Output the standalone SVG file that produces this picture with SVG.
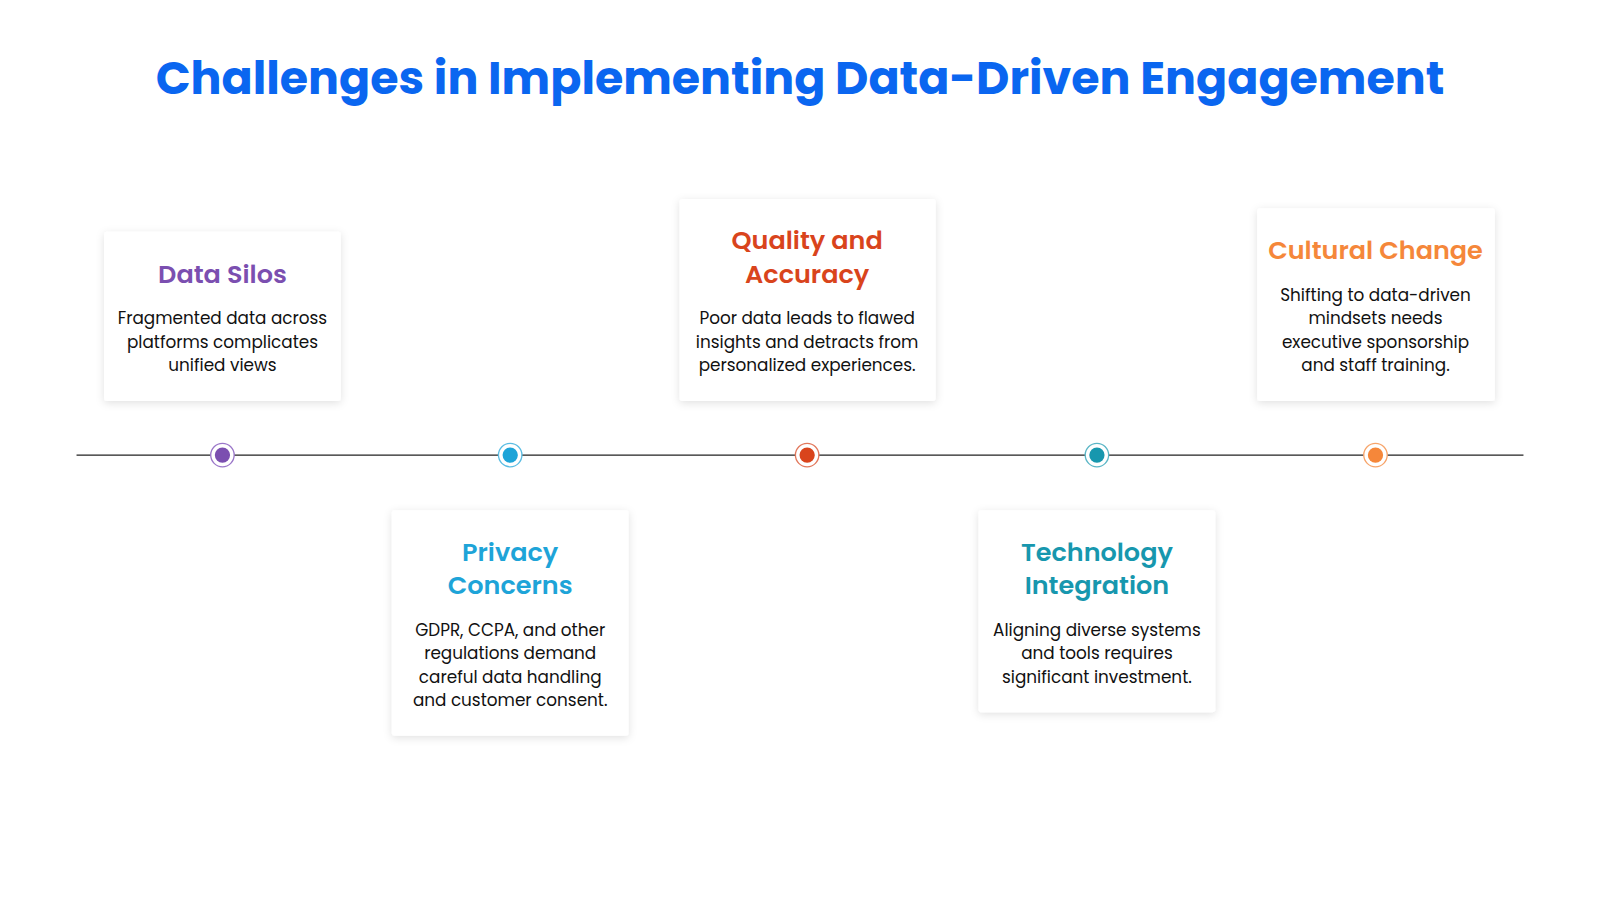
<svg xmlns="http://www.w3.org/2000/svg" width="1600" height="900" viewBox="0 0 1600 900">
<defs>
<filter id="sh" x="-20%" y="-20%" width="140%" height="140%"><feDropShadow dx="0" dy="2" stdDeviation="4" flood-color="#000" flood-opacity="0.12"/></filter>
<style>
text{font-family:Poppins,Inter,"Noto Sans",sans-serif;text-anchor:middle}
.card{fill:#fff;filter:url(#sh)}
.h{font-size:25px;font-weight:600}
.b{font-size:16.5px;fill:#111}
.title{font-size:45px;font-weight:700;fill:#0A66F0}
</style>
</defs>
<rect width="1600" height="900" fill="#fff"/>
<g transform="scale(1.0204)">
<text class="title" x="784" y="92">Challenges in Implementing Data-Driven Engagement</text>
<g id="connectors"><line x1="75" y1="446" x2="1493" y2="446" stroke="#222" stroke-width="1.3"/></g>
<g id="dots">
<circle cx="218" cy="446" r="11.5" fill="#fff" stroke="#9B77C9" stroke-width="1.3"/><circle cx="218" cy="446" r="7.5" fill="#7B4FB0"/>
<circle cx="500" cy="446" r="11.5" fill="#fff" stroke="#5BBDE3" stroke-width="1.3"/><circle cx="500" cy="446" r="7.5" fill="#1EA4D8"/>
<circle cx="791" cy="446" r="11.5" fill="#fff" stroke="#E2785C" stroke-width="1.3"/><circle cx="791" cy="446" r="7.5" fill="#D9441C"/>
<circle cx="1075" cy="446" r="11.5" fill="#fff" stroke="#5BB6C6" stroke-width="1.3"/><circle cx="1075" cy="446" r="7.5" fill="#1797AE"/>
<circle cx="1348" cy="446" r="11.5" fill="#fff" stroke="#F7A56B" stroke-width="1.3"/><circle cx="1348" cy="446" r="7.5" fill="#F5873A"/>
</g>
<g id="data-silos"><rect class="card" x="102" y="227" width="232" height="166" rx="3"/>
<text class="h" x="218" y="277" fill="#7B4FB0">Data Silos</text>
<text class="b" x="218" y="318">Fragmented data across</text><text class="b" x="218" y="341">platforms complicates</text><text class="b" x="218" y="364">unified views</text></g>
<g id="quality"><rect class="card" x="666" y="195" width="251" height="198" rx="3"/>
<text class="h" x="791" y="244" fill="#D9441C">Quality and</text><text class="h" x="791" y="277" fill="#D9441C">Accuracy</text>
<text class="b" x="791" y="318">Poor data leads to flawed</text><text class="b" x="791" y="341">insights and detracts from</text><text class="b" x="791" y="364">personalized experiences.</text></g>
<g id="cultural"><rect class="card" x="1232" y="204" width="233" height="189" rx="3"/>
<text class="h" x="1348" y="254" fill="#F5873A">Cultural Change</text>
<text class="b" x="1348" y="295">Shifting to data-driven</text><text class="b" x="1348" y="318">mindsets needs</text><text class="b" x="1348" y="341">executive sponsorship</text><text class="b" x="1348" y="364">and staff training.</text></g>
<g id="privacy"><rect class="card" x="384" y="500" width="232" height="221" rx="3"/>
<text class="h" x="500" y="550" fill="#1EA4D8">Privacy</text><text class="h" x="500" y="582" fill="#1EA4D8">Concerns</text>
<text class="b" x="500" y="623">GDPR, CCPA, and other</text><text class="b" x="500" y="646">regulations demand</text><text class="b" x="500" y="669">careful data handling</text><text class="b" x="500" y="692">and customer consent.</text></g>
<g id="technology"><rect class="card" x="959" y="500" width="232" height="198" rx="3"/>
<text class="h" x="1075" y="550" fill="#1797AE">Technology</text><text class="h" x="1075" y="582" fill="#1797AE">Integration</text>
<text class="b" x="1075" y="623">Aligning diverse systems</text><text class="b" x="1075" y="646">and tools requires</text><text class="b" x="1075" y="669">significant investment.</text></g>
</g>
</svg>
